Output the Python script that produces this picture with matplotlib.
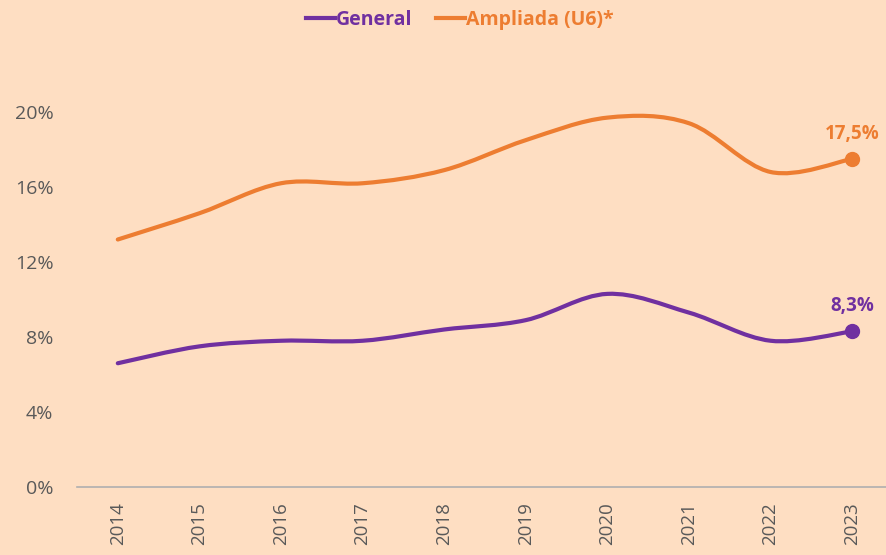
import matplotlib
matplotlib.use("Agg")
import matplotlib.pyplot as plt
import numpy as np
from matplotlib.path import Path
from matplotlib.patches import PathPatch
from matplotlib.lines import Line2D
from matplotlib.ticker import FuncFormatter

years = ["2014", "2015", "2016", "2017", "2018", "2019", "2020", "2021", "2022", "2023"]
general = [6.6, 7.5, 7.8, 7.8, 8.4, 8.9, 10.3, 9.3, 7.8, 8.3]
ampliada = [13.2, 14.6, 16.2, 16.2, 16.9, 18.5, 19.7, 19.4, 16.8, 17.5]
series_names = ["General", "Ampliada (U6)*"]
colors = ["#7030A0", "#ED7D31"]
BG = "#FEDEC2"

plt.rcParams["font.family"] = ["Open Sans", "DejaVu Sans"]


def smooth_path(xs, ys):
    # Excel-style smoothed line: cubic bezier segments through each point
    pts = np.column_stack([xs, ys]).astype(float)
    n = len(pts)
    verts = [pts[0]]
    codes = [Path.MOVETO]
    for i in range(n - 1):
        p0 = pts[i - 1] if i > 0 else pts[i]
        p1 = pts[i]
        p2 = pts[i + 1]
        p3 = pts[i + 2] if i + 2 < n else pts[i + 1]
        c1 = p1 + (p2 - p0) / 6.0
        c2 = p2 - (p3 - p1) / 6.0
        verts += [c1, c2, p2]
        codes += [Path.CURVE4] * 3
    return Path(verts, codes)


fig = plt.figure(figsize=(8.87, 5.55), dpi=100, facecolor=BG)
ax = fig.add_axes([77 / 887, 68 / 555, 816 / 887, 450 / 555])
ax.set_facecolor(BG)

x = np.arange(len(years))
for vals, name, c in zip([general, ampliada], series_names, colors):
    ax.add_patch(PathPatch(smooth_path(x, vals), fill=False, edgecolor=c,
                           lw=3.0, capstyle="round", joinstyle="round"))
    ax.plot(x[-1], vals[-1], "o", color=c, ms=10)
    ax.annotate(f"{vals[-1]:.1f}%".replace(".", ","), (x[-1], vals[-1]),
                xytext=(0, 11), textcoords="offset points", ha="center", va="bottom",
                color=c, fontsize=13.5, fontweight="bold")

ax.set_xlim(-0.5, len(years) - 0.5)
ax.set_ylim(0, 24)
ax.set_yticks([0, 4, 8, 12, 16, 20])
ax.yaxis.set_major_formatter(FuncFormatter(lambda v, p: f"{v:.0f}%"))
ax.set_xticks(x)
ax.set_xticklabels(years, rotation=90)
ax.tick_params(axis="y", length=0, pad=17, labelsize=14, labelcolor="#595959")
ax.tick_params(axis="x", length=0, pad=11, labelsize=13.5, labelcolor="#595959")
for s in ["top", "right", "left"]:
    ax.spines[s].set_visible(False)
ax.spines["bottom"].set_color("#AFAFAF")
ax.spines["bottom"].set_linewidth(1.2)

handles = [Line2D([], [], color=c, lw=3.0) for c in colors]
leg = fig.legend(handles, series_names, loc="center", bbox_to_anchor=(460 / 887, 1 - 20 / 555),
                 ncol=2, frameon=False, handlelength=1.5, handletextpad=0.05,
                 columnspacing=1.2, prop={"weight": "bold", "size": 14})
for t, c in zip(leg.get_texts(), colors):
    t.set_color(c)

fig.savefig("out.png", dpi=100, facecolor=BG)
